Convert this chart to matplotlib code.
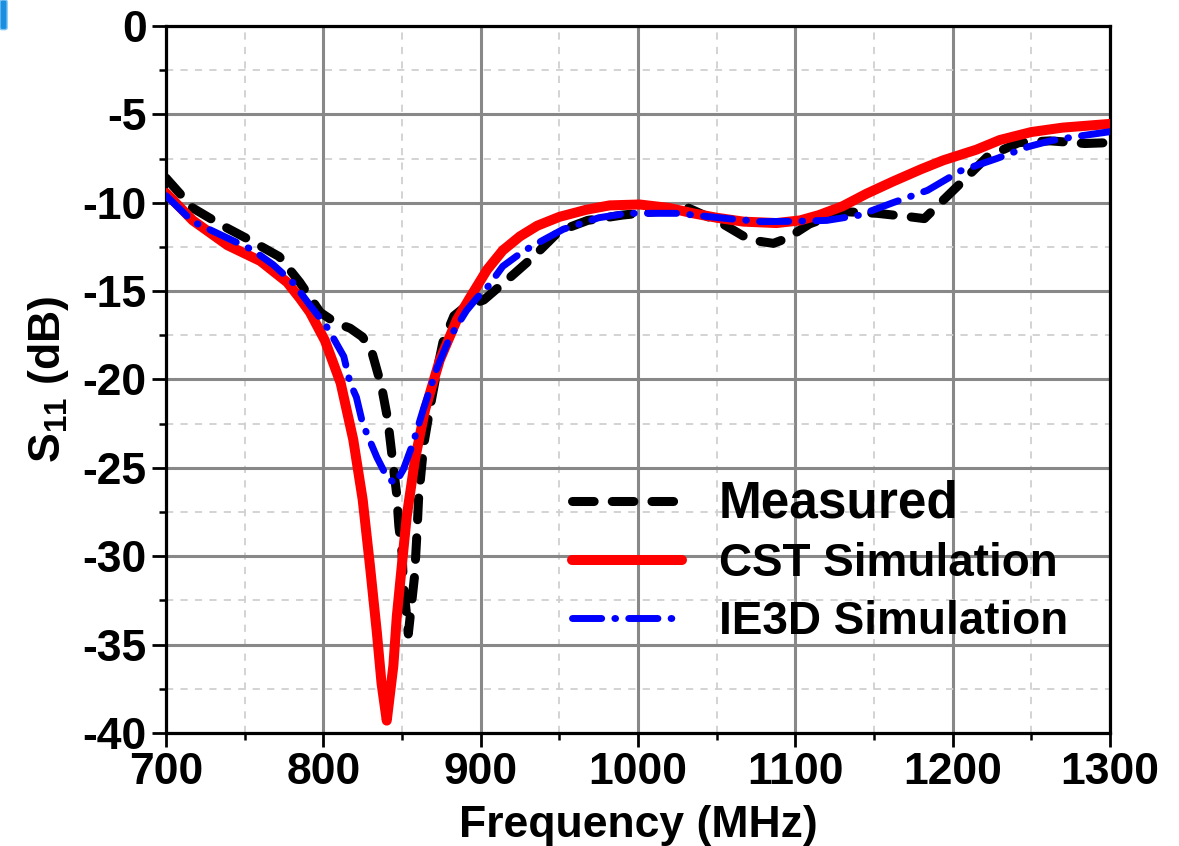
import matplotlib
matplotlib.use("Agg")
import matplotlib.pyplot as plt
from matplotlib.ticker import MultipleLocator, FormatStrFormatter
from matplotlib.patches import FancyBboxPatch

plt.rcParams['font.family'] = ['Liberation Sans', 'DejaVu Sans']
plt.rcParams['font.weight'] = 'bold'
plt.rcParams['axes.unicode_minus'] = False
plt.rcParams['mathtext.fontset'] = 'custom'
plt.rcParams['mathtext.rm'] = 'Liberation Sans:bold'
plt.rcParams['mathtext.bf'] = 'Liberation Sans:bold'
plt.rcParams['mathtext.it'] = 'Liberation Sans:bold'

# ---- data ----
meas_f = [700, 717, 736, 753, 772, 785, 798, 808, 817, 825, 831, 837, 841, 843.5,
          846.5, 848, 850, 851, 853, 854, 858, 859.5, 860.5, 862.5, 864, 868, 872,
          876, 883, 890, 902, 919, 933, 950, 968, 990, 1012, 1032, 1052, 1071, 1086,
          1095, 1109, 1130, 1152, 1173, 1182, 1190, 1205, 1222, 1242, 1262, 1284, 1300]
meas_db = [-8.6, -10.3, -11.3, -12.1, -13.05, -14.5, -16.2, -16.8, -17.1, -17.6, -18.5,
           -20.4, -22.3, -24.2, -26.4, -28.3, -29.8, -31.7, -33.4, -34.4, -31.1, -28.7,
           -26.8, -24.9, -23.6, -21.5, -19.6, -17.9, -16.4, -15.9, -15.5, -14.2, -13.1,
           -11.6, -11.0, -10.7, -10.5, -10.3, -11.1, -12.1, -12.3, -12.0, -11.2, -10.5,
           -10.6, -10.8, -10.9, -10.2, -8.9, -7.4, -6.6, -6.5, -6.65, -6.6]

cst_f = [700, 717, 739, 760, 777, 785, 791.5, 801, 811, 819, 825, 829.7, 834, 837,
         840.3, 844.5, 846.7, 849.8, 853, 858.3, 864.7, 874, 885, 893, 904, 914, 925,
         936, 950, 967, 982, 1001, 1020, 1035, 1050, 1067, 1088, 1103, 1115, 1130,
         1145, 1162, 1180, 1194, 1215, 1230, 1250, 1270, 1300]
cst_db = [-9.45, -11.0, -12.4, -13.3, -14.5, -15.4, -16.2, -17.8, -20.2, -23.4, -26.8,
          -30.6, -34.3, -37.2, -39.3, -36.2, -33.4, -30.6, -27.75, -24.5, -21.7, -18.9,
          -16.6, -15.4, -13.8, -12.7, -11.9, -11.3, -10.8, -10.4, -10.15, -10.1, -10.3,
          -10.6, -10.85, -11.07, -11.15, -11.0, -10.7, -10.2, -9.5, -8.8, -8.1, -7.6,
          -7.0, -6.45, -6.0, -5.75, -5.54]

ie3d_f = [700, 717, 732, 755, 768, 781, 791.5, 802, 806, 813, 817, 821, 825, 834,
          840.3, 845.6, 850.8, 857, 863.5, 872, 880.5, 891, 897.5, 905, 914, 927, 940,
          952.5, 967.5, 975, 993, 1025, 1057, 1078, 1100, 1120, 1141, 1162, 1184, 1205,
          1228, 1248, 1262, 1278, 1300]
ie3d_db = [-9.6, -11.07, -11.7, -12.67, -13.5, -14.55, -15.8, -17.0, -17.6, -18.7,
           -20.2, -21.0, -22.5, -24.4, -25.5, -25.9, -25.1, -23.6, -21.7, -19.4, -17.6,
           -16.1, -15.4, -14.7, -13.6, -12.75, -12.1, -11.5, -11.07, -10.85, -10.6,
           -10.6, -10.9, -11.07, -11.05, -11.0, -10.7, -10.0, -9.3, -8.2, -7.5, -6.83,
           -6.5, -6.26, -5.98]

labels = ["Measured", "CST Simulation", "IE3D Simulation"]
x_ticks = [700, 800, 900, 1000, 1100, 1200, 1300]
y_ticks = [0, -5, -10, -15, -20, -25, -30, -35, -40]

# ---- figure ----
fig = plt.figure(figsize=(11.79, 8.46), dpi=100)
ax = fig.add_axes([0.1408, 0.1336, 0.8007, 0.8357])

ax.plot(meas_f, meas_db, color='black', lw=6.5, ls=(0, (2.4, 2.0)),
        dash_capstyle='round', solid_capstyle='round', label=labels[0], zorder=3)
ax.plot(cst_f, cst_db, color='#ff0000', lw=7.2, solid_capstyle='round',
        solid_joinstyle='round', label=labels[1], zorder=4)
ax.plot(ie3d_f, ie3d_db, color='#0000ff', lw=5.0,
        ls=(0, (4.2, 1.9, 0.1, 1.9)), dash_capstyle='round',
        label=labels[2], zorder=5)

ax.set_xlim(700, 1300)
ax.set_ylim(-40, 0)
ax.set_xticks(x_ticks)
ax.set_yticks(y_ticks)
ax.xaxis.set_minor_locator(MultipleLocator(50))
ax.yaxis.set_minor_locator(MultipleLocator(2.5))
ax.yaxis.set_major_formatter(FormatStrFormatter('%d'))

ax.grid(which='major', color='#888888', lw=2.2, ls='-', zorder=0)
ax.grid(which='minor', color='#d0d0d0', lw=1.3, ls=(0, (4, 4)), zorder=0)
ax.set_axisbelow(True)

for s in ax.spines.values():
    s.set_linewidth(2.3)
    s.set_color('black')

ax.tick_params(which='major', direction='out', length=10, width=2.0,
               labelsize=32, pad=4)
ax.tick_params(which='minor', direction='out', length=5, width=1.8)
ax.tick_params(top=False, right=False, which='both')
for t in ax.get_xticklabels() + ax.get_yticklabels():
    t.set_fontweight('bold')

ax.set_xlabel("Frequency (MHz)", fontsize=32, fontweight='bold', labelpad=8)
ax.set_ylabel(r"S$_{\mathregular{11}}$ (dB)", fontsize=32, fontweight='bold', labelpad=8)

leg = ax.legend(loc='lower right', bbox_to_anchor=(0.975, 0.10), frameon=False,
                fontsize=33, handlelength=2.4, handletextpad=0.8, labelspacing=0.3,
                borderaxespad=0)
for t in leg.get_texts():
    t.set_fontweight('bold')
leg.get_texts()[0].set_fontsize(37)

# small blue mark in the top-left corner of the screenshot
fig.patches.append(FancyBboxPatch((0.0, 0.965), 0.006, 0.035,
                                  boxstyle="round,pad=0,rounding_size=0.002",
                                  transform=fig.transFigure, facecolor='#1a8fe0',
                                  edgecolor='#7cc4f5', lw=1.0))

fig.savefig("out.png", dpi=100)
